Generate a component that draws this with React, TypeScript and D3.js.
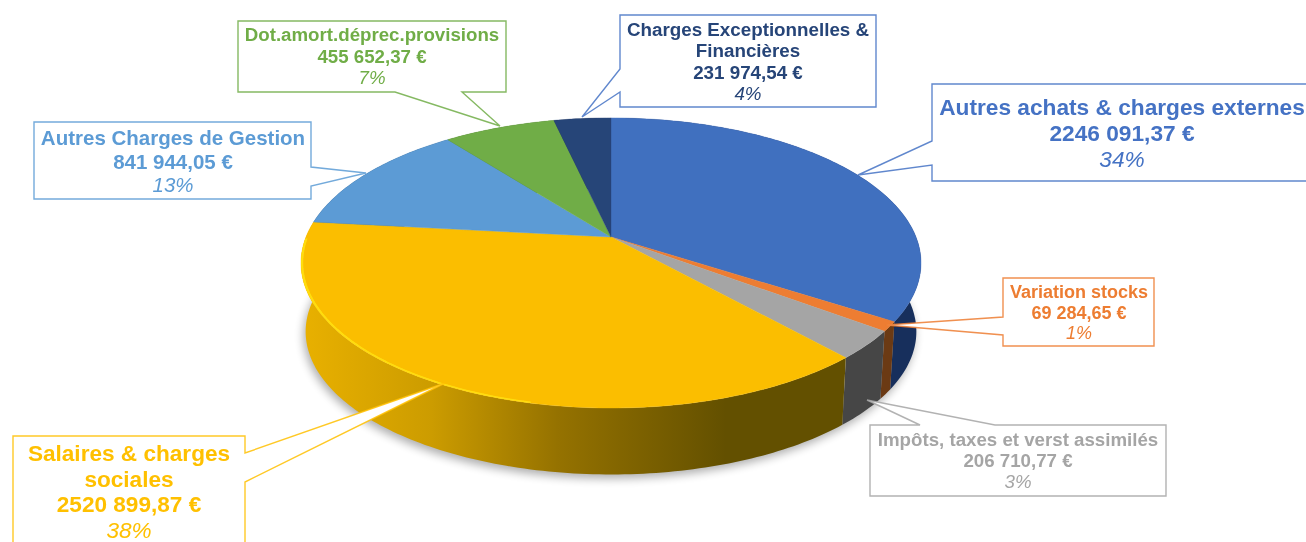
import React from "react";
import * as d3 from "d3";

const categories = [
  "Autres achats & charges externes",
  "Variation stocks",
  "Impôts, taxes et verst assimilés",
  "Salaires & charges sociales",
  "Autres Charges de Gestion",
  "Dot.amort.déprec.provisions",
  "Charges Exceptionnelles & Financières",
];
const values = [2246091.37, 69284.65, 206710.77, 2520899.87, 841944.05, 455652.37, 231974.54];
const amountLabels = ["2246 091,37 €", "69 284,65 €", "206 710,77 €", "2520 899,87 €", "841 944,05 €", "455 652,37 €", "231 974,54 €"];
const percentLabels = ["34%", "1%", "3%", "38%", "13%", "7%", "4%"];
const topColors = ["#4170BF", "#ED7D31", "#A5A5A5", "#FBBE00", "#5B9BD5", "#70AD47", "#264478"];
const labelColors = ["#4472C4", "#ED7D31", "#A5A5A5", "#FFC000", "#5B9BD5", "#70AD47", "#264478"];
const strokeColors = ["#4472C4", "#ED7D31", "#A5A5A5", "#FFC000", "#5B9BD5", "#70AD47", "#4472C4"];
const wallColors = ["#172F5C", "#6B3A14", "#464646", "url(#wallGold)", "#2B4A68", "#35531F", "#121F38"];

type Callout = {
  box: [number, number, number, number];
  side: "left" | "right" | "top" | "bottom";
  base: [number, number];
  tip: [number, number];
  lines: string[];
  size: number;
  lineH: number;
  firstY: number;
  textX: number;
};
const callouts: Callout[] = [
  { box: [932, 84, 390, 97], side: "left", base: [141, 165], tip: [858, 175], lines: ["Autres achats & charges externes"], size: 22.7, lineH: 26, firstY: 115, textX: 1122 },
  { box: [1003, 278, 151, 68], side: "left", base: [317, 335], tip: [886, 325], lines: ["Variation stocks"], size: 18, lineH: 20.5, firstY: 298, textX: 1079 },
  { box: [870, 425, 296, 71], side: "top", base: [920, 995], tip: [867, 400], lines: ["Impôts, taxes et verst assimilés"], size: 18.7, lineH: 21, firstY: 446, textX: 1018 },
  { box: [13, 436, 232, 130], side: "right", base: [453, 482], tip: [445, 383], lines: ["Salaires & charges", "sociales"], size: 22.6, lineH: 25.5, firstY: 461, textX: 129 },
  { box: [34, 122, 277, 77], side: "right", base: [167, 186], tip: [366, 173], lines: ["Autres Charges de Gestion"], size: 20.5, lineH: 23.5, firstY: 145, textX: 173 },
  { box: [238, 21, 268, 71], side: "bottom", base: [395, 462], tip: [500, 126], lines: ["Dot.amort.déprec.provisions"], size: 18.7, lineH: 21.5, firstY: 41, textX: 372 },
  { box: [620, 15, 256, 92], side: "left", base: [69, 92], tip: [582, 117], lines: ["Charges Exceptionnelles &", "Financières"], size: 18.8, lineH: 21.3, firstY: 36, textX: 748 },
];

const W = 1306;
const H = 542;
const cx = 611;
const cy = 237;
const A = 305;
const B = 140.4;
const K = 0.179;
const DEPTH = 69;
const BOTTOM_SCALE = 0.985;

function project(angle: number, r = 1, bottom = false): [number, number] {
  const u = r * Math.sin(angle);
  const v = -r * Math.cos(angle);
  const s = 1 / (1 - K * v);
  const f = bottom ? BOTTOM_SCALE : 1;
  return [cx + A * u * s * f, cy + B * v * s * f + (bottom ? DEPTH : 0)];
}

function sample(a0: number, a1: number, r = 1, bottom = false): [number, number][] {
  const n = Math.max(2, Math.ceil(Math.abs(a1 - a0) / (Math.PI / 180)));
  return d3.range(n + 1).map((i) => project(a0 + ((a1 - a0) * i) / n, r, bottom));
}

const line = d3.line();
const arcs = d3.pie<number>().sort(null)(values);
const TAU = Math.PI * 2;

function slicePath(a0: number, a1: number): string {
  return line([[cx, cy], ...sample(a0, a1)])! + "Z";
}
function wallPath(a0: number, a1: number): string {
  return line([...sample(a0, a1), ...sample(a1, a0, 1, true)])! + "Z";
}
function rimPath(a0: number, a1: number, inner: number): string {
  return line([...sample(a0, a1), ...sample(a1, a0, inner)])! + "Z";
}

function calloutPath(c: Callout): string {
  const [x, y, w, h] = c.box;
  const [p, q] = c.base;
  let pts: [number, number][];
  if (c.side === "left") pts = [[x, y], [x + w, y], [x + w, y + h], [x, y + h], [x, q], c.tip, [x, p]];
  else if (c.side === "right") pts = [[x, y], [x + w, y], [x + w, p], c.tip, [x + w, q], [x + w, y + h], [x, y + h]];
  else if (c.side === "top") pts = [[x, y], [p, y], c.tip, [q, y], [x + w, y], [x + w, y + h], [x, y + h]];
  else pts = [[x, y], [x + w, y], [x + w, y + h], [q, y + h], c.tip, [p, y + h], [x, y + h]];
  return line(pts)! + "Z";
}

const FONT = "'Liberation Sans', Arial, sans-serif";

export default function App() {
  const goldStart = project(arcs[3].startAngle)[0];
  const wallOutline = line([...sample(Math.PI * 0.45, Math.PI * 1.55, 1, true), ...sample(Math.PI * 1.55, Math.PI * 0.45, 0.9, true)])! + "Z";
  return (
    <svg
      width={W}
      height={H}
      viewBox={`0 0 ${W} ${H}`}
      style={{ position: "fixed", left: 0, top: 0, background: "#fff" }}
      fontFamily={FONT}
    >
      <defs>
        <linearGradient id="wallGold" gradientUnits="userSpaceOnUse" x1={305} x2={goldStart - 120} y1={0} y2={0}>
          <stop offset="0" stopColor="#E8B000" />
          <stop offset="0.3" stopColor="#CC9C00" />
          <stop offset="0.6" stopColor="#957200" />
          <stop offset="1" stopColor="#635000" />
        </linearGradient>
        <filter id="pieShadow" filterUnits="userSpaceOnUse" x={240} y={200} width={740} height={340}>
          <feGaussianBlur stdDeviation="5" />
        </filter>
        <filter id="soft" x="-5%" y="-5%" width="110%" height="110%">
          <feGaussianBlur stdDeviation="0.5" />
        </filter>
      </defs>

      <path d={wallOutline} fill="#000" opacity={0.32} filter="url(#pieShadow)" transform="translate(-2,4)" />

      <g>
        {arcs.map((a, i) => (
          <path key={i} d={wallPath(a.startAngle, a.endAngle)} fill={wallColors[i]} />
        ))}
      </g>

      <g filter="url(#soft)">
        {arcs.map((a, i) => (
          <path key={i} d={slicePath(a.startAngle, a.endAngle)} fill={topColors[i]} stroke={topColors[i]} strokeWidth={0.4} />
        ))}
        <path d={rimPath(arcs[3].startAngle + 0.95, arcs[3].endAngle - 0.12, 0.993)} fill="#FFDD10" />
      </g>

      {callouts.map((c, i) => {
        let y = c.firstY;
        return (
          <g key={i}>
            <path d={calloutPath(c)} fill="#fff" stroke={strokeColors[i]} strokeWidth={1.4} strokeOpacity={0.85} />
            <g fill={labelColors[i]} textAnchor="middle" fontSize={c.size} filter="url(#soft)">
              {c.lines.map((t, j) => {
                const el = (
                  <text key={j} x={c.textX} y={y} fontWeight={700}>
                    {t}
                  </text>
                );
                y += c.lineH;
                return el;
              })}
              <text x={c.textX} y={y} fontWeight={700}>
                {amountLabels[i]}
              </text>
              <text x={c.textX} y={y + c.lineH} fontStyle="italic">
                {percentLabels[i]}
              </text>
            </g>
          </g>
        );
      })}
    </svg>
  );
}
